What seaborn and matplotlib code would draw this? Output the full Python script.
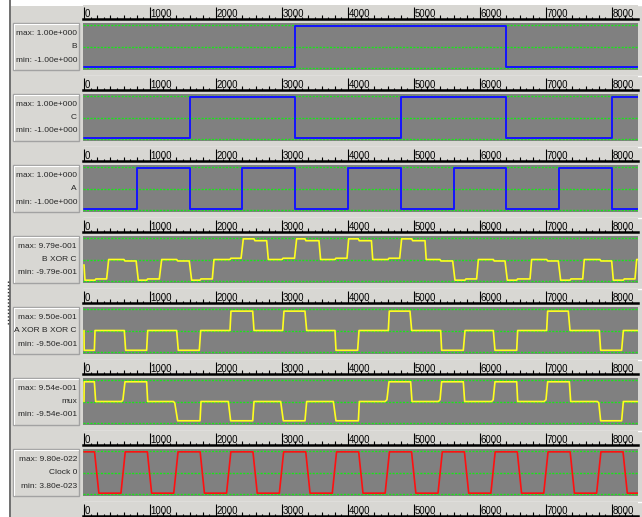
import matplotlib
matplotlib.use("Agg")
import matplotlib.pyplot as plt
from matplotlib.patches import Rectangle
import numpy as np
import seaborn as sns

# --- scope data (time in ns) ---
panel_names = ['B', 'C', 'A', 'B XOR C', 'A XOR B XOR C', 'mux', 'Clock 0']
max_labels = ['max: 1.00e+000', 'max: 1.00e+000', 'max: 1.00e+000', 'max: 9.79e-001',
              'max: 9.50e-001', 'max: 9.54e-001', 'max: 9.80e-022']
min_labels = ['min: -1.00e+000', 'min: -1.00e+000', 'min: -1.00e+000', 'min: -9.79e-001',
              'min: -9.50e-001', 'min: -9.54e-001', 'min: 3.80e-023']
panel_hi = [1.0, 1.0, 1.0, 0.979, 0.95, 0.954, 9.80]      # clock in 1e-22
panel_lo = [-1.0, -1.0, -1.0, -0.979, -0.95, -0.954, 0.38]

tick_values = [0, 1000, 2000, 3000, 4000, 5000, 6000, 7000, 8000]
tick_labels = ['0', '1000', '2000', '3000', '4000', '5000', '6000', '7000', '8000']

# digital inputs (edge times + level after the edge)
b_time = [0, 3200, 6400, 8400]
b_level = [-1, 1, -1, -1]
c_time = [0, 1600, 3200, 4800, 6400, 8000, 8400]
c_level = [-1, 1, -1, 1, -1, 1, 1]
a_time = [0, 800, 1600, 2400, 3200, 4000, 4800, 5600, 6400, 7200, 8000, 8400]
a_level = [-1, 1, -1, 1, -1, 1, -1, 1, -1, 1, -1, -1]

# analog outputs (polyline vertices)
bxc_time = [0, 15, 167, 180, 343, 374, 606, 620, 790, 823, 950, 965, 1141, 1177,
            1404, 1420, 1595, 1631, 1758, 1772, 1944, 1970, 2212, 2225, 2380, 2414,
            2576, 2590, 2768, 2793, 3000, 3015, 3190, 3222, 3348, 3362, 3560, 3585,
            3803, 3815, 3985, 4010, 4156, 4170, 4355, 4375, 4606, 4620, 4783, 4813,
            4965, 4980, 5167, 5185, 5394, 5408, 5586, 5621, 5773, 5787, 5949, 5975,
            6202, 6215, 6379, 6414, 6556, 6570, 6758, 6783, 7010, 7025, 7187, 7222,
            7364, 7378, 7556, 7580, 7818, 7832, 7995, 8020, 8172, 8186, 8348, 8374, 8400]
bxc_value = [-0.25, -0.979, -0.979, -0.92, -0.92, 0.0, 0.0, -0.07, -0.07, -0.979, -0.979, -0.92, -0.92, 0.0,
             0.0, -0.07, -0.07, -0.979, -0.979, -0.92, -0.92, 0.0, 0.0, 0.06, 0.06, 0.979,
             0.979, 0.89, 0.89, 0.0, 0.0, 0.06, 0.06, 0.979, 0.979, 0.89, 0.89, 0.0,
             0.0, 0.06, 0.06, 0.979, 0.979, 0.89, 0.89, 0.0, 0.0, 0.06, 0.06, 0.979,
             0.979, 0.89, 0.89, 0.0, 0.0, -0.07, -0.07, -0.979, -0.979, -0.92, -0.92, 0.0,
             0.0, -0.07, -0.07, -0.979, -0.979, -0.92, -0.92, 0.0, 0.0, -0.07, -0.07, -0.979,
             -0.979, -0.92, -0.92, 0.0, 0.0, -0.07, -0.07, -0.979, -0.979, -0.92, -0.92, 0.0, 0.0]

axbxc_time = [0, 3, 157, 167, 611, 631, 949, 965, 1404, 1429, 1747, 1768, 2212, 2227,
              2556, 2576, 3010, 3030, 3348, 3374, 3803, 3818, 4146, 4167, 4611, 4626,
              4939, 4965, 5404, 5419, 5747, 5773, 6202, 6227, 6556, 6571, 7010, 7025,
              7338, 7364, 7808, 7828, 8146, 8172, 8400]
axbxc_value = [0.0, -0.91, -0.91, 0.0, 0.0, -0.91, -0.91, 0.0, 0.0, -0.91, -0.91, 0.0, 0.0, 0.89,
               0.89, 0.0, 0.0, 0.89, 0.89, 0.0, 0.0, -0.91, -0.91, 0.0, 0.0, 0.89,
               0.89, 0.0, 0.0, -0.91, -0.91, 0.0, 0.0, -0.91, -0.91, 0.0, 0.0, 0.89,
               0.89, 0.0, 0.0, -0.91, -0.91, 0.0, 0.0]

mux_time = [0, 3, 157, 177, 571, 590, 621, 949, 965, 1354, 1375, 1419, 1758, 1773,
            2187, 2222, 2556, 2576, 2980, 3020, 3348, 3374, 3778, 3818, 4157, 4172,
            4561, 4590, 4621, 4949, 4970, 5369, 5395, 5419, 5747, 5768, 6177, 6200,
            6227, 6556, 6571, 6970, 7000, 7025, 7354, 7374, 7778, 7800, 7828, 8146, 8172, 8400]
mux_value = [0.0, 0.91, 0.91, 0.0, 0.0, 0.08, 0.91, 0.91, 0.0, 0.0, -0.06, -0.89, -0.89, 0.0,
             0.0, -0.89, -0.89, 0.0, 0.0, -0.89, -0.89, 0.0, 0.0, -0.89, -0.89, 0.0,
             0.0, 0.08, 0.91, 0.91, 0.0, 0.0, 0.08, 0.91, 0.91, 0.0, 0.0, 0.08,
             0.91, 0.91, 0.0, 0.0, 0.08, 0.91, 0.91, 0.0, 0.0, -0.06, -0.89, -0.89, 0.0, 0.0]

clock_time = [0, 160, 225, 560, 625, 960, 1025, 1360, 1425, 1760, 1825, 2160, 2225,
              2560, 2625, 2960, 3025, 3360, 3425, 3762, 3827, 4162, 4227, 4563, 4628,
              4963, 5028, 5364, 5429, 5764, 5829, 6165, 6230, 6565, 6630, 6966, 7031,
              7366, 7431, 7767, 7832, 8167, 8232, 8400]
clock_value = [9.8, 9.8, 0.38, 0.38, 9.8, 9.8, 0.38, 0.38, 9.8, 9.8, 0.38, 0.38, 9.8,
               9.8, 0.38, 0.38, 9.8, 9.8, 0.38, 0.38, 9.8, 9.8, 0.38, 0.38, 9.8,
               9.8, 0.38, 0.38, 9.8, 9.8, 0.38, 0.38, 9.8, 9.8, 0.38, 0.38, 9.8,
               9.8, 0.38, 0.38, 9.8, 9.8, 0.38, 0.38]

traces = [
    (b_time, b_level, '#1414ff', 'steps-post'),
    (c_time, c_level, '#1414ff', 'steps-post'),
    (a_time, a_level, '#1414ff', 'steps-post'),
    (bxc_time, bxc_value, '#ffff1e', 'default'),
    (axbxc_time, axbxc_value, '#ffff1e', 'default'),
    (mux_time, mux_value, '#ffff1e', 'default'),
    (clock_time, clock_value, '#ff1010', 'default'),
]

BG = '#d8d7d3'
SCOPE = '#808080'
GREEN = '#19e619'

sns.set_theme(style='white')
plt.rcParams['font.family'] = ['Liberation Sans', 'DejaVu Sans']

W, H = 642, 517
fig = plt.figure(figsize=(W / 100, H / 100), dpi=100)
fig.patch.set_facecolor(BG)


def frac(left, top, width, height):
    return [left / W, 1 - (top + height) / H, width / W, height / H]


# window chrome drawn in pixel coordinates
bg = fig.add_axes([0, 0, 1, 1], zorder=-5)
bg.set_xlim(0, W)
bg.set_ylim(H, 0)
bg.axis('off')
bg.add_patch(Rectangle((0, 0), W, 6, color='white', lw=0))
bg.add_patch(Rectangle((0, 0), 9, H, color='white', lw=0))
bg.plot([9.8, 9.8], [0, H], color='#707070', lw=1.4)
bg.plot([8, 8], [281, 326], color='#303030', lw=1, ls=(0, (1, 1.5)))

x_lo, x_hi = -15, 8394
plot_left, plot_w = 83, 555
pitch = 71

# rulers
for k in range(8):
    y_base = 19 + pitch * k
    bg.plot([plot_left, W], [y_base - 14.5, y_base - 14.5], color='white', lw=1)
    rax = fig.add_axes(frac(plot_left, y_base - 14, plot_w, 14))
    rax.set_facecolor(BG)
    rax.set_xlim(x_lo, x_hi)
    rax.set_ylim(0, 1)
    for s in ['top', 'left', 'right']:
        rax.spines[s].set_visible(False)
    rax.spines['bottom'].set_color('black')
    rax.spines['bottom'].set_linewidth(1.8)
    rax.set_xticks(tick_values)
    rax.set_xticks(np.arange(0, 8400, 100), minor=True)
    rax.tick_params(axis='x', which='major', direction='in', length=8.6, width=0.8,
                    color='black', bottom=True, labelbottom=False)
    rax.tick_params(axis='x', which='minor', direction='in', length=1.6, width=0.8,
                    color='black', bottom=True)
    rax.set_yticks([])
    mids = [t for t in np.arange(200, 8400, 200) if t % 1000 != 0]
    rax.vlines(mids, 0, 0.27, transform=rax.get_xaxis_transform(), color='black', lw=0.8)
    for t, s in zip(tick_values, tick_labels):
        rax.text(t + 10, 0.15, s, transform=rax.get_xaxis_transform(), fontsize=6.9,
                 ha='left', va='baseline', color='black')

# scope panels
for i, (tx, ty, col, ds) in enumerate(traces):
    top = 23 + pitch * i
    ax = fig.add_axes(frac(plot_left, top, plot_w, 47))
    ax.set_facecolor(SCOPE)
    for s in ax.spines.values():
        s.set_visible(False)
    mid = (panel_hi[i] + panel_lo[i]) / 2
    half = (panel_hi[i] - panel_lo[i]) / 2
    for g in [mid - 1.04 * half, mid, mid + 1.04 * half]:
        ax.axhline(g, color=GREEN, lw=1.0, ls=(0, (1.5, 1.0)), zorder=1)
    sns.lineplot(x=tx, y=ty, ax=ax, color=col, lw=1.4 if ds == 'steps-post' else 1.2,
                 estimator=None, sort=False, drawstyle=ds, legend=False, zorder=3)
    ax.set_xlim(x_lo, x_hi)
    ax.set_ylim(mid - 1.137 * half, mid + 1.137 * half)
    ax.set_xticks([])
    ax.set_yticks([])
    ax.set_xlabel('')
    ax.set_ylabel('')

    # label box on the left
    bg.add_patch(Rectangle((12.7, top + 0.3), 66.6, 46.4, facecolor=BG,
                           edgecolor='#a2a2a2', lw=1))
    bg.plot([13.7, 78.3], [top + 1.3, top + 1.3], color='white', lw=0.8)
    bg.plot([13.7, 13.7], [top + 1.3, top + 45.7], color='white', lw=0.8)
    bg.text(77, top + 10.3, max_labels[i], ha='right', va='center', fontsize=6.0)
    bg.text(77, top + 23.7, panel_names[i], ha='right', va='center', fontsize=6.0)
    bg.text(77, top + 37, min_labels[i], ha='right', va='center', fontsize=6.0)

fig.savefig('out.png', dpi=100, facecolor=fig.get_facecolor())
